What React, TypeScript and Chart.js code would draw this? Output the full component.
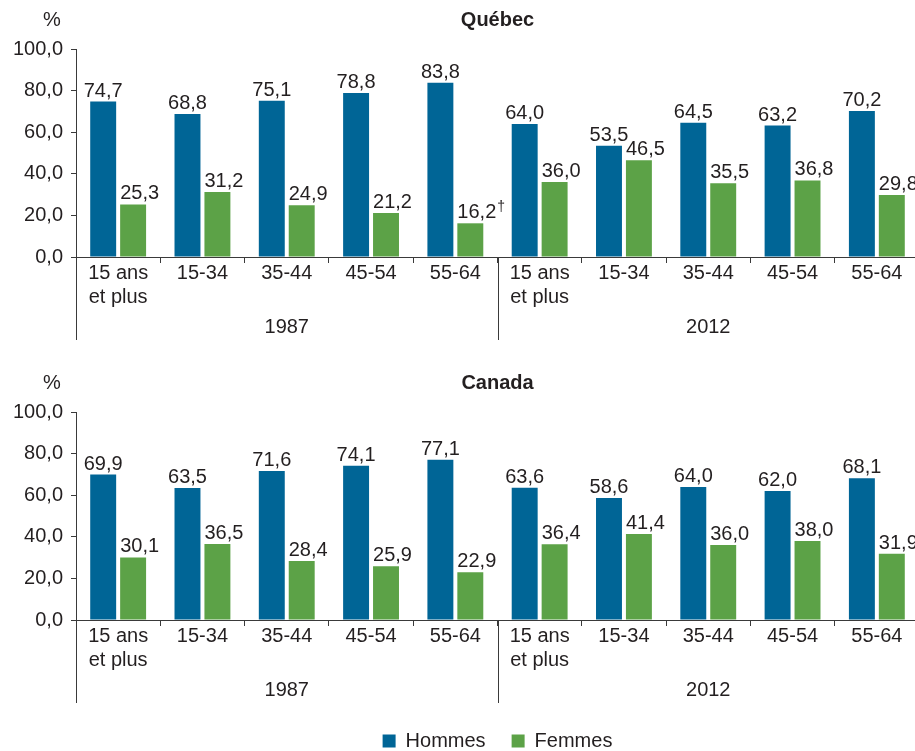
import { useEffect, useRef } from 'react';
import { Chart, registerables } from 'chart.js';

Chart.register(...registerables);

// ---------- data ----------
const ageGroups: (string | string[])[] = [['15 ans', 'et plus'], '15-34', '35-44', '45-54', '55-64'];
const years = ['1987', '2012'];
const seriesNames = ['Hommes', 'Femmes'];
const yTicks = [0, 20, 40, 60, 80, 100];

const quebecHommes = [74.7, 68.8, 75.1, 78.8, 83.8, 64.0, 53.5, 64.5, 63.2, 70.2];
const quebecFemmes = [25.3, 31.2, 24.9, 21.2, 16.2, 36.0, 46.5, 35.5, 36.8, 29.8];
const quebecFemmesNotes = ['', '', '', '', '†', '', '', '', '', ''];

const canadaHommes = [69.9, 63.5, 71.6, 74.1, 77.1, 63.6, 58.6, 64.0, 62.0, 68.1];
const canadaFemmes = [30.1, 36.5, 28.4, 25.9, 22.9, 36.4, 41.4, 36.0, 38.0, 31.9];
const canadaFemmesNotes = ['', '', '', '', '', '', '', '', '', ''];

const categoryLabels = years.flatMap(() => ageGroups);

// ---------- style ----------
const FONT = "'Liberation Sans', Arial, sans-serif";
const TEXT = '#231f20';
const AXIS = '#3a3a3a';
const BLUE = '#006596';
const GREEN = '#5ca247';

Chart.defaults.font.family = FONT;
Chart.defaults.color = TEXT;

const fmt = (v: number) => v.toFixed(1).replace('.', ',');

const decorPlugin = {
  id: 'decor',
  afterDatasetsDraw(chart: any, _args: any, opts: any) {
    const ctx = chart.ctx as CanvasRenderingContext2D;
    ctx.save();
    ctx.fillStyle = TEXT;
    ctx.textBaseline = 'alphabetic';
    chart.data.datasets.forEach((ds: any, di: number) => {
      const meta = chart.getDatasetMeta(di);
      const align = opts.labelAlign[di];
      const notes: string[] = opts.notes[di] || [];
      meta.data.forEach((bar: any, i: number) => {
        const { x, y, width } = bar.getProps(['x', 'y', 'width'], true);
        const txt = fmt(ds.data[i]);
        ctx.font = `20px ${FONT}`;
        const w = ctx.measureText(txt).width;
        const tx = align === 'left' ? x - width / 2 : x - w / 2;
        ctx.textAlign = 'left';
        ctx.fillText(txt, tx, y - 5);
        const note = notes[i];
        if (note) {
          ctx.font = `14px ${FONT}`;
          ctx.fillText(note, tx + w + 1, y - 12);
        }
      });
    });
    ctx.restore();
  },
  afterDraw(chart: any, _args: any, opts: any) {
    const ctx = chart.ctx as CanvasRenderingContext2D;
    const { left, right, bottom } = chart.chartArea;
    const n = chart.data.labels.length;
    const catW = (right - left) / n;
    const perGroup = n / years.length;
    ctx.save();
    // title
    ctx.fillStyle = TEXT;
    ctx.textBaseline = 'middle';
    ctx.textAlign = 'center';
    ctx.font = `bold 20px ${FONT}`;
    ctx.fillText(opts.title, (left + right) / 2, 20);
    ctx.font = `20px ${FONT}`;
    ctx.fillText('%', left - 24, 20);
    // separators
    ctx.strokeStyle = AXIS;
    ctx.lineWidth = 1;
    for (let g = 0; g <= years.length; g++) {
      const xx = Math.round(left + g * perGroup * catW) + 0.5;
      ctx.beginPath();
      ctx.moveTo(xx, bottom);
      ctx.lineTo(xx, bottom + 83);
      ctx.stroke();
    }
    // year labels
    years.forEach((yr, g) => {
      ctx.fillText(yr, left + (g * perGroup + perGroup / 2) * catW, bottom + 70);
    });
    ctx.restore();
  },
};

function BarPanel(props: {
  title: string;
  hommes: number[];
  femmes: number[];
  femmesNotes: string[];
  showLegend: boolean;
  height: number;
}) {
  const ref = useRef<HTMLCanvasElement>(null);
  useEffect(() => {
    const chart = new Chart(ref.current!, {
      type: 'bar',
      data: {
        labels: categoryLabels as any,
        datasets: [
          {
            label: seriesNames[0],
            data: props.hommes,
            backgroundColor: BLUE,
            borderWidth: 0,
            categoryPercentage: 0.71,
            barPercentage: 0.867,
          },
          {
            label: seriesNames[1],
            data: props.femmes,
            backgroundColor: GREEN,
            borderWidth: 0,
            categoryPercentage: 0.71,
            barPercentage: 0.867,
          },
        ],
      },
      options: {
        responsive: false,
        animation: false,
        layout: { padding: { top: 49, right: 6, left: 0, bottom: 0 } },
        scales: {
          x: {
            grid: { offset: true, drawOnChartArea: false, drawTicks: true, tickLength: 6, color: AXIS },
            border: { color: AXIS, width: 1 },
            ticks: {
              font: { size: 20, family: FONT, lineHeight: 1.2 },
              color: TEXT,
              padding: -2,
              maxRotation: 0,
              autoSkip: false,
            },
            afterFit: (s: any) => {
              s.height = props.showLegend ? 85 : 106;
            },
          },
          y: {
            min: 0,
            max: 100,
            afterBuildTicks: (s: any) => {
              s.ticks = yTicks.map((v) => ({ value: v }));
            },
            ticks: {
              callback: (v: any) => fmt(Number(v)),
              font: { size: 20, family: FONT },
              color: TEXT,
              padding: 8,
            },
            grid: { drawOnChartArea: false, drawTicks: true, tickLength: 5, color: AXIS },
            border: { color: AXIS, width: 1 },
            afterFit: (s: any) => {
              s.width = 76;
            },
          },
        },
        plugins: {
          tooltip: { enabled: false },
          legend: {
            display: props.showLegend,
            position: 'bottom',
            fullSize: false,
            labels: {
              boxWidth: 13,
              boxHeight: 13,
              padding: 26,
              color: TEXT,
              font: { size: 20, family: FONT },
            },
          },
          decor: {
            title: props.title,
            labelAlign: ['center', 'left'],
            notes: [[], props.femmesNotes],
          },
        } as any,
      },
      plugins: [decorPlugin],
    });
    return () => chart.destroy();
  }, []);
  return (
    <canvas
      ref={ref}
      width={925}
      height={props.height}
      style={{ display: 'block', width: 925, height: props.height }}
    />
  );
}

export default function App() {
  return (
    <div
      style={{
        position: 'fixed',
        left: 0,
        top: 0,
        width: 915,
        height: 751,
        overflow: 'hidden',
        background: '#fff',
      }}
    >
      <div style={{ position: 'absolute', left: 0, top: 0 }}>
        <BarPanel
          title="Québec"
          hommes={quebecHommes}
          femmes={quebecFemmes}
          femmesNotes={quebecFemmesNotes}
          showLegend={false}
          height={363}
        />
      </div>
      <div style={{ position: 'absolute', left: 0, top: 363 }}>
        <BarPanel
          title="Canada"
          hommes={canadaHommes}
          femmes={canadaFemmes}
          femmesNotes={canadaFemmesNotes}
          showLegend={true}
          height={398}
        />
      </div>
    </div>
  );
}
